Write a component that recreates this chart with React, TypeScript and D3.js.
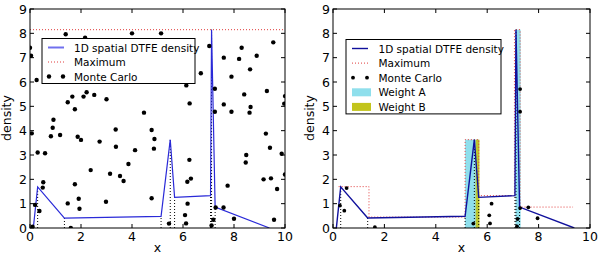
import * as d3 from "d3";
import { useEffect, useRef } from "react";

// density curve vertices (DTFE)
const densityX = [0.13, 0.3, 1.35, 5.14, 5.5, 5.67, 7.08, 7.12, 7.26, 9.39];
const densityY = [0, 1.69, 0.41, 0.48, 3.63, 1.26, 1.33, 8.15, 0.86, 0];

// per-cell maximum (step), right panel
const maxEdges = [0.22, 1.4, 5.14, 5.67, 7.06, 7.28, 9.34];
const maxValues = [1.7, 0.45, 3.63, 1.33, 8.15, 0.86];
const globalMax = 8.15;

// weights (right panel)
const weightA = [
	{ x0: 5.14, x1: 5.68, top: 3.63 },
	{ x0: 7.1, x1: 7.3, top: 8.15 },
];
const weightB = [{ x0: 5.55, x1: 5.7, top: 3.63 }];

// monte carlo samples (left: all, right: accepted)
const mcAll = [
	[0.0, 7.41], [0.04, 7.08], [0.26, 6.08], [1.4, 7.96], [2.16, 7.82], [4.0, 8.0], [5.14, 8.0],
	[7.03, 7.48], [6.7, 6.36], [6.13, 5.86], [6.26, 5.12], [4.47, 4.74], [3.0, 5.29], [2.52, 5.47],
	[2.22, 5.58], [2.1, 5.4], [1.66, 5.4], [1.48, 5.17], [1.76, 4.88], [0.92, 4.45], [0.89, 4.12],
	[0.07, 3.89], [0.82, 3.77], [1.18, 3.82], [0.3, 3.1], [0.59, 3.07], [0.52, 1.88], [0.5, 1.66],
	[0.2, 0.95], [0.37, 0.7], [0.1, 0.05], [1.76, 1.8], [1.48, 1.01], [1.91, 1.2], [1.94, 0.79],
	[1.6, 0.0], [1.87, 3.75], [2.0, 3.62], [2.38, 2.38], [2.73, 3.55], [2.98, 1.08], [3.14, 2.23],
	[3.36, 4.05], [3.37, 3.34], [3.53, 2.14], [3.67, 1.93], [3.86, 2.63], [4.12, 3.2], [4.77, 4.03],
	[4.88, 3.66], [4.86, 3.26], [4.77, 1.22], [5.45, 0.18], [6.25, 2.8], [6.17, 1.9], [6.31, 2.03],
	[6.18, 1.0], [6.08, 0.53], [6.12, 0.19], [7.12, 0.1], [7.19, 0.34], [7.28, 0.84], [7.59, 0.84],
	[7.75, 1.74], [8.0, 0.38], [8.48, 3.0], [8.46, 2.69], [9.25, 3.88], [9.41, 3.3], [9.87, 3.05],
	[9.16, 2.0], [9.45, 2.04], [9.69, 1.6], [9.57, 0.34], [10.0, 2.2], [7.25, 5.72], [7.25, 4.78],
	[7.6, 7.0], [8.2, 6.95], [8.3, 7.41], [8.89, 7.08], [9.54, 7.63], [8.63, 6.52], [7.9, 6.22],
	[9.29, 5.63], [8.4, 5.49], [7.6, 5.08], [7.9, 4.78], [8.65, 4.97], [8.61, 4.74], [10.0, 5.42],
	[9.97, 5.11],
];
const mcAccepted = [
	[0.27, 0.92], [0.44, 0.71], [0.53, 1.64], [1.63, 0.03], [5.46, 0.18], [6.17, 1.0], [6.08, 0.52],
	[6.11, 0.19], [7.16, 0.07], [7.18, 0.37], [7.28, 0.82], [7.6, 0.85], [7.96, 0.4], [7.28, 5.71],
	[7.28, 4.78],
];

const xTicks = [0, 2, 4, 6, 8, 10];
const yTicks = [0, 1, 2, 3, 4, 5, 6, 7, 8, 9];

const FONT = "DejaVu Sans, sans-serif";
const RED = "#e03c3c";
const CYAN = "#8fdfec";
const OLIVE = "#c2c41c";

function drawPanel(svg, cfg) {
	const { x0, x1, id, right } = cfg;
	const x = d3.scaleLinear().domain([0, 10]).range([x0, x1]);
	const y = d3.scaleLinear().domain([0, 9]).range([228, 9]);

	const g = svg.append("g");
	g.append("clipPath").attr("id", id).append("rect")
		.attr("x", x0).attr("y", 9).attr("width", x1 - x0).attr("height", 219);
	const plot = g.append("g").attr("clip-path", `url(#${id})`);

	const line = d3.line().x(d => x(d[0])).y(d => y(d[1]));
	const curve = densityX.map((v, i) => [v, densityY[i]]);

	if (right) {
		// weight areas
		weightA.forEach(w => {
			plot.append("rect").attr("x", x(w.x0)).attr("y", y(w.top))
				.attr("width", x(w.x1) - x(w.x0)).attr("height", y(0) - y(w.top)).attr("fill", CYAN);
		});
		weightB.forEach(w => {
			plot.append("rect").attr("x", x(w.x0)).attr("y", y(w.top))
				.attr("width", x(w.x1) - x(w.x0)).attr("height", y(0) - y(w.top)).attr("fill", OLIVE).attr("opacity", 0.9);
		});
		// step maximum
		const steps = [];
		maxValues.forEach((v, i) => { steps.push([maxEdges[i], v]); });
		steps.push([maxEdges[maxEdges.length - 1], maxValues[maxValues.length - 1]]);
		plot.append("path").datum(steps)
			.attr("d", d3.line().x(d => x(d[0])).y(d => y(d[1])).curve(d3.curveStepAfter))
			.attr("fill", "none").attr("stroke", RED).attr("stroke-width", 1).attr("stroke-dasharray", "1,2");
	} else {
		plot.append("line").attr("x1", x(0)).attr("x2", x(10)).attr("y1", y(globalMax)).attr("y2", y(globalMax))
			.attr("stroke", RED).attr("stroke-width", 1).attr("stroke-dasharray", "1,2");
	}

	// dotted sample markers
	densityX.slice(1, -1).forEach((v, i) => {
		plot.append("line").attr("x1", x(v)).attr("x2", x(v)).attr("y1", y(0)).attr("y2", y(densityY[i + 1]))
			.attr("stroke", "#000").attr("stroke-width", 1).attr("stroke-dasharray", "1,2");
	});

	// density line
	plot.append("path").datum(curve).attr("d", line).attr("fill", "none")
		.attr("stroke", right ? "#10109c" : "#2a2ad8").attr("stroke-width", right ? 1.4 : 1.2);

	// monte carlo
	const pts = right ? mcAccepted : mcAll;
	plot.selectAll("circle.mc").data(pts).enter().append("circle").attr("class", "mc")
		.attr("cx", d => x(d[0])).attr("cy", d => y(d[1])).attr("r", right ? 1.9 : 2.2).attr("fill", "#000");

	// frame
	g.append("rect").attr("x", x0).attr("y", 9).attr("width", x1 - x0).attr("height", 219)
		.attr("fill", "none").attr("stroke", "#000").attr("stroke-width", 1);

	// ticks (inward, all sides)
	xTicks.forEach(t => {
		g.append("line").attr("x1", x(t)).attr("x2", x(t)).attr("y1", 228).attr("y2", 224).attr("stroke", "#000");
		g.append("line").attr("x1", x(t)).attr("x2", x(t)).attr("y1", 9).attr("y2", 13).attr("stroke", "#000");
		g.append("text").attr("x", x(t)).attr("y", 241).attr("text-anchor", "middle")
			.attr("font-family", FONT).attr("font-size", 12.5).text(t);
	});
	yTicks.forEach(t => {
		g.append("line").attr("x1", x0).attr("x2", x0 + 4).attr("y1", y(t)).attr("y2", y(t)).attr("stroke", "#000");
		g.append("line").attr("x1", x1).attr("x2", x1 - 4).attr("y1", y(t)).attr("y2", y(t)).attr("stroke", "#000");
		g.append("text").attr("x", x0 - 3).attr("y", y(t) + 4.5).attr("text-anchor", "end")
			.attr("font-family", FONT).attr("font-size", 12.5).text(t);
	});

	// axis labels
	g.append("text").attr("x", (x0 + x1) / 2).attr("y", 252).attr("text-anchor", "middle")
		.attr("font-family", FONT).attr("font-size", 12.5).text("x");
	g.append("text").attr("transform", `translate(${x0 - 19},118) rotate(-90)`).attr("text-anchor", "middle")
		.attr("font-family", FONT).attr("font-size", 12.5).text("density");

	// legend
	const lx = right ? 346 : 42;
	const ly = right ? 39.5 : 38.5;
	const lw = right ? 155 : 153;
	const items = right
		? ["1D spatial DTFE density", "Maximum", "Monte Carlo", "Weight A", "Weight B"]
		: ["1D spatial DTFE density", "Maximum", "Monte Carlo"];
	const rowH = right ? 14.6 : 14.5;
	const lh = 14 + rowH * (items.length - 1) + 0;
	const leg = g.append("g");
	leg.append("rect").attr("x", lx).attr("y", ly).attr("width", lw).attr("height", lh + 2)
		.attr("fill", "#fff").attr("stroke", "#000").attr("stroke-width", 1);
	items.forEach((name, i) => {
		const cy = ly + 9 + i * rowH;
		const sx0 = lx + 6;
		const sx1 = lx + 22;
		if (i === 0) {
			leg.append("line").attr("x1", sx0).attr("x2", sx1).attr("y1", cy).attr("y2", cy)
				.attr("stroke", right ? "#10109c" : "#7070ee").attr("stroke-width", right ? 1.4 : 2);
		} else if (i === 1) {
			leg.append("line").attr("x1", sx0).attr("x2", sx1).attr("y1", cy).attr("y2", cy)
				.attr("stroke", RED).attr("stroke-dasharray", "1,2");
		} else if (i === 2) {
			[sx0 + 1, sx1 - 1].forEach(px => {
				leg.append("circle").attr("cx", px).attr("cy", cy).attr("r", right ? 1.9 : 2.2).attr("fill", "#000");
			});
		} else {
			leg.append("rect").attr("x", sx0).attr("y", cy - 4).attr("width", 19).attr("height", 8)
				.attr("fill", i === 3 ? CYAN : OLIVE);
		}
		leg.append("text").attr("x", lx + (right ? 32.5 : 32)).attr("y", cy + 4)
			.attr("font-family", FONT).attr("font-size", 10.5).text(name);
	});
}

export default function App() {
	const ref = useRef(null);
	useEffect(() => {
		const svg = d3.select(ref.current);
		svg.selectAll("*").remove();
		drawPanel(svg, { x0: 30, x1: 285, id: "clipL", right: false });
		drawPanel(svg, { x0: 333, x1: 590, id: "clipR", right: true });
	}, []);
	return (
		<svg ref={ref} width={600} height={255}
			style={{ position: "absolute", left: 0, top: 0, background: "#fff" }} />
	);
}
